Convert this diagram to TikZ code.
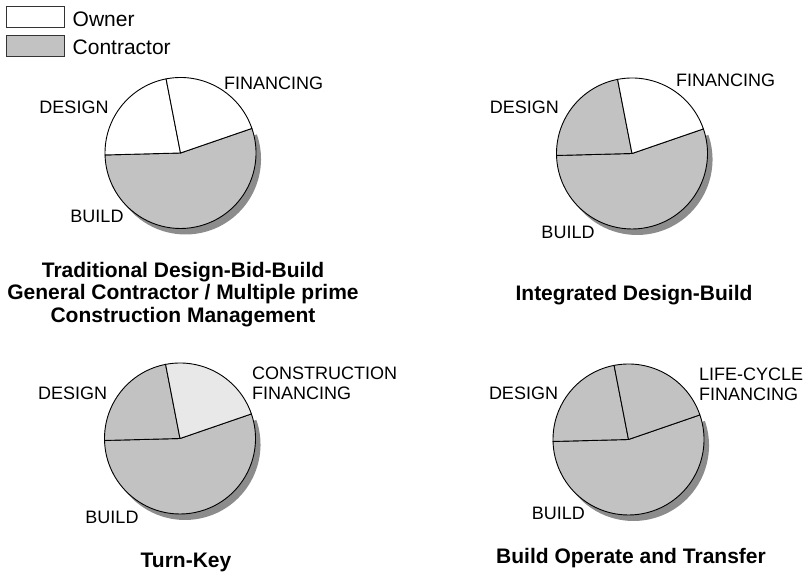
\documentclass[tikz,border=0pt]{standalone}
\usepackage{fontspec}
\setmainfont{Liberation Sans}
\definecolor{pieGray}{RGB}{193,194,193}
\definecolor{shadowGray}{RGB}{140,140,140}
\definecolor{paleGray}{RGB}{232,232,232}
\begin{document}
\begin{tikzpicture}[
        x=1pt, y=1pt,
        slice/.style={draw=black, line width=0.9pt, line join=round},
        slicetext/.style={font=\fontsize{18}{20}\selectfont, inner sep=0pt},
        charttitle/.style={font=\fontsize{21}{22.5}\selectfont\bfseries, inner sep=0pt, align=center, anchor=north},
        keybox/.style={draw=black!80, line width=0.8pt, minimum width=58pt, minimum height=21pt, inner sep=0pt},
        keytext/.style={font=\fontsize{21}{23}\selectfont, inner sep=0pt, anchor=west}
    ]
        \useasboundingbox (0,0) rectangle (808,575);

        % Legend
        \node[keybox, fill=white] (owner-box) at (35,558) {};
        \node[keybox, fill=pieGray] (contr-box) at (35,529) {};
        \node[keytext] (owner-text) at (72.5,556) {Owner};
        \node[keytext] (contr-text) at (72.5,527.5) {Contractor};

        % Pies
        \foreach \pname/\px/\py/\dfill/\ffill in {trad/180.5/422/white/white, integ/632/421.5/pieGray/white, turn/180/136.5/pieGray/paleGray, boot/628.5/135.5/pieGray/pieGray}
        {
            \coordinate (\pname) at (\px,\py);
            \fill[shadowGray] ([shift={(5,-6)}]\pname) -- ++(19:75.5) arc[start angle=19, end angle=-178.5, radius=75.5] -- cycle;
            \filldraw[slice, fill=pieGray] (\pname) -- ++(19:75.5) arc[start angle=19, end angle=-178.5, radius=75.5] -- cycle;
            \filldraw[slice, fill=\dfill] (\pname) -- ++(101:75.5) arc[start angle=101, end angle=181.5, radius=75.5] -- cycle;
            \filldraw[slice, fill=\ffill] (\pname) -- ++(19:75.5) arc[start angle=19, end angle=101, radius=75.5] -- cycle;
        }

        % Slice labels
        \node[slicetext] (trad-design) at (74,468) {DESIGN};
        \node[slicetext, anchor=west] (trad-fin) at (224,492) {FINANCING};
        \node[slicetext] (trad-build) at (97,359) {BUILD};

        \node[slicetext] (integ-design) at (524.3,467.5) {DESIGN};
        \node[slicetext, anchor=west] (integ-fin) at (676,495) {FINANCING};
        \node[slicetext] (integ-build) at (568,343) {BUILD};

        \node[slicetext] (turn-design) at (72.7,181.7) {DESIGN};
        \node[slicetext, anchor=west, align=left] (turn-fin) at (252,191.5) {CONSTRUCTION\\FINANCING};
        \node[slicetext] (turn-build) at (112,58) {BUILD};

        \node[slicetext] (boot-design) at (523.5,181.5) {DESIGN};
        \node[slicetext, anchor=west, align=left] (boot-fin) at (699,191) {LIFE-CYCLE\\FINANCING};
        \node[slicetext] (boot-build) at (558.3,61.7) {BUILD};

        % Titles
        \node[charttitle] (trad-title) at (183,313) {Traditional Design-Bid-Build\\General Contractor / Multiple prime\\Construction Management};
        \node[charttitle] (integ-title) at (634,290) {Integrated Design-Build};
        \node[charttitle] (turn-title) at (186,21.7) {Turn-Key};
        \node[charttitle] (boot-title) at (631,26.7) {Build Operate and Transfer};
    \end{tikzpicture}
\end{document}
